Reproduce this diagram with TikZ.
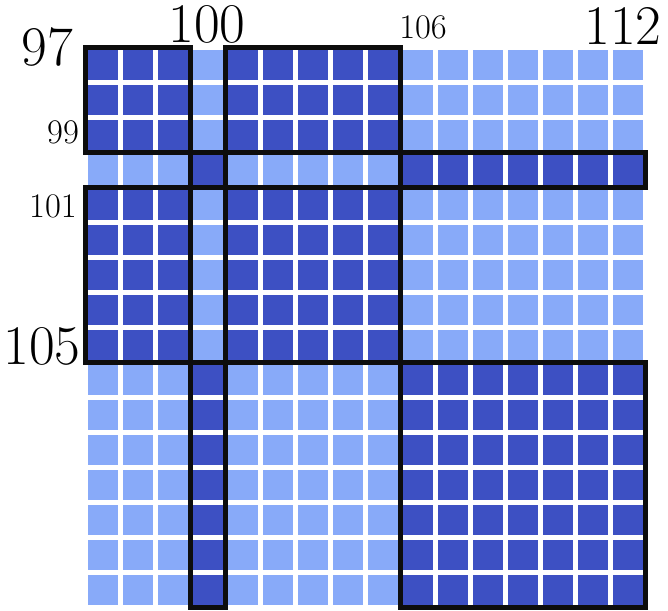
\documentclass[tikz,border=0pt]{standalone}
\usepackage{fontspec}
\definecolor{darkc}{HTML}{3D50C3}
\definecolor{lightc}{HTML}{88AAF9}
\begin{document}
\begin{tikzpicture}[x=1pt,y=-1pt,
  blockbox/.style={draw=black!95, line width=4.3pt},
  biglab/.style={inner sep=0pt, font=\fontsize{56}{56}\selectfont},
  smalllab/.style={inner sep=0pt, font=\fontsize{34.5}{34.5}\selectfont}]
\useasboundingbox (0,0) rectangle (668,610);
\foreach \i in {0,...,15}{
  \foreach \j in {0,...,15}{
    \pgfmathtruncatemacro\gi{or(\i==3,\i>8)}
    \pgfmathtruncatemacro\gj{or(\j==3,\j>8)}
    \ifnum\gi=\gj \def\cc{darkc}\else\def\cc{lightc}\fi
    \fill[\cc] (88+35*\i,50+35*\j) rectangle ++(30,30);
  }}
% block outlines
\draw[blockbox] (85.5,47.5) rectangle (190.5,152.5);
\draw[blockbox] (225.5,47.5) rectangle (400.5,152.5);
\draw[blockbox] (190.5,152.5) rectangle (225.5,187.5);
\draw[blockbox] (400.5,152.5) rectangle (645.5,187.5);
\draw[blockbox] (85.5,187.5) rectangle (190.5,362.5);
\draw[blockbox] (225.5,187.5) rectangle (400.5,362.5);
\draw[blockbox] (190.5,362.5) rectangle (225.5,607.5);
\draw[blockbox] (400.5,362.5) rectangle (645.5,607.5);
% labels
\node[biglab] (l97) at (47,47) {97};
\node[biglab] (l100) at (207,24.5) {100};
\node[smalllab] (l106) at (423,27) {106};
\node[biglab] (l112) at (623,26) {112};
\node[smalllab] (l99) at (63,132) {99};
\node[smalllab] (l101) at (53,206) {101};
\node[biglab] (l105) at (42,346) {105};
\end{tikzpicture}
\end{document}
